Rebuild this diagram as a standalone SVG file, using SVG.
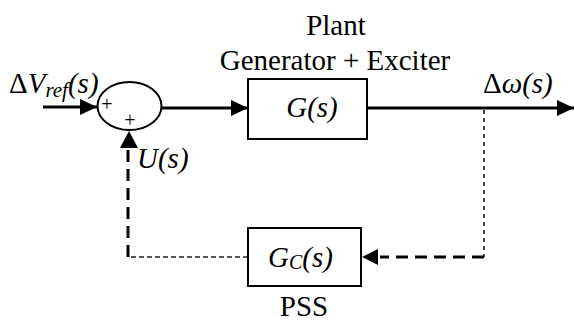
<svg xmlns="http://www.w3.org/2000/svg" width="574" height="322" viewBox="0 0 574 322" font-family="'Liberation Serif', 'Times New Roman', 'DejaVu Serif', serif">
<style>
text{font-family:'Liberation Serif','Times New Roman','DejaVu Serif',serif;fill:#000}
.lbl{font-size:29px}
.it{font-style:italic}
.box{fill:#fff;stroke:#000;stroke-width:2}
.solid{fill:none;stroke:#000;stroke-width:3}
.thickdash{fill:none;stroke:#000;stroke-width:3;stroke-dasharray:12 7}
.thindash{fill:none;stroke:#222;stroke-width:1.5;stroke-dasharray:5 3}
.dot{fill:none;stroke:#444;stroke-width:2;stroke-dasharray:4 4}
</style>
<defs>
<marker id="ah" markerWidth="18" markerHeight="16" refX="17" refY="8" orient="auto" markerUnits="userSpaceOnUse">
<path d="M0,0 L17,8 L0,16 Z" fill="#000"/>
</marker>
</defs>
<g id="connectors">
<line class="solid" x1="43" y1="107" x2="97" y2="107" marker-end="url(#ah)"/>
<line class="solid" x1="162" y1="108" x2="248" y2="108" marker-end="url(#ah)"/>
<line class="solid" x1="367" y1="108" x2="574" y2="108" marker-end="url(#ah)"/>
<line class="dot" x1="484" y1="110" x2="484" y2="257"/>
<line class="thickdash" x1="484" y1="257" x2="380" y2="257"/>
<path d="M378,249 L362,257 L378,265 Z" fill="#000"/>
<polyline class="thindash" points="248,257 128,257 128,252"/>
<line class="thickdash" x1="128" y1="257" x2="128" y2="146"/>
<path d="M120,148 L129,131 L138,148 Z" fill="#000"/>
</g>
<g id="sum">
<ellipse cx="129.5" cy="106" rx="32" ry="24" fill="#fff" stroke="#000" stroke-width="2"/>
<text x="107" y="111" font-size="20" text-anchor="middle">+</text>
<text x="130" y="127" font-size="20" text-anchor="middle">+</text>
</g>
<g id="plant">
<rect class="box" x="248" y="79" width="119" height="60"/>
<text class="lbl it" x="312" y="117" text-anchor="middle">G(s)</text>
<text class="lbl" x="336" y="35" text-anchor="middle">Plant</text>
<text class="lbl" x="335" y="70" text-anchor="middle">Generator + Exciter</text>
</g>
<g id="pss">
<rect class="box" x="248" y="228" width="113" height="58"/>
<text class="lbl it" x="268" y="267">G<tspan font-size="20" dy="2">C</tspan><tspan dy="-2">(s)</tspan></text>
<text class="lbl" x="304" y="316" text-anchor="middle">PSS</text>
</g>
<g id="labels">
<text class="lbl" x="9" y="93">Δ<tspan class="it">V</tspan><tspan class="it" font-size="21" dy="4">ref</tspan><tspan class="it" dy="-4">(s)</tspan></text>
<text class="lbl" x="483" y="93">Δ<tspan class="it">ω(s)</tspan></text>
<text class="lbl it" x="137" y="168">U(s)</text>
</g>
</svg>
